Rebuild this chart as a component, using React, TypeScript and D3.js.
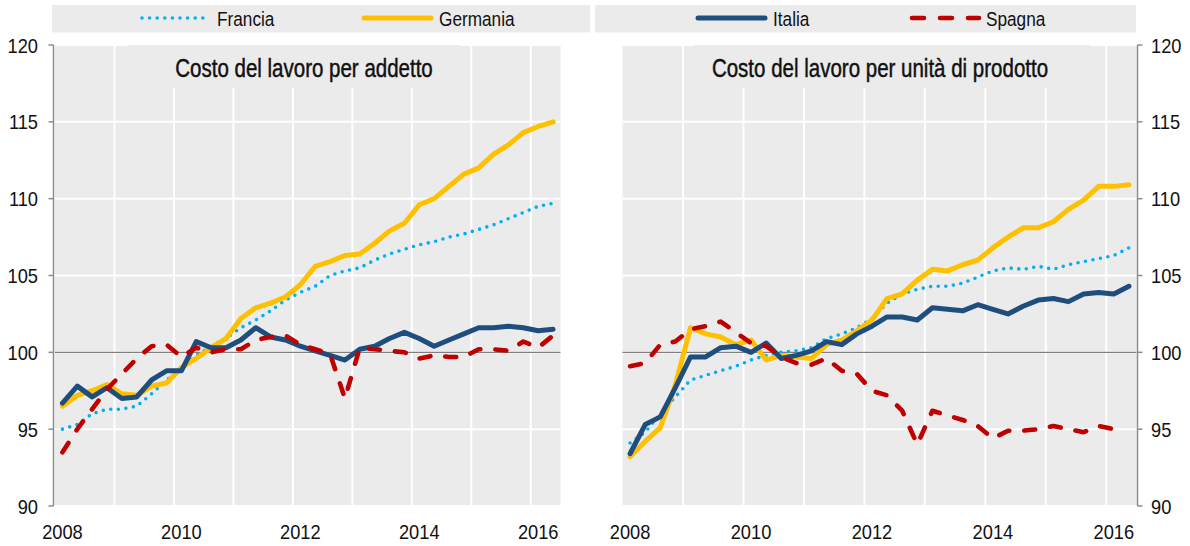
import React from 'react';
import * as d3 from 'd3';

// ---------- DATA ----------
const years = [2008, 2009, 2010, 2011, 2012, 2013, 2014, 2015, 2016];
const quarterLabels: string[] = [];
years.forEach((y) => [1, 2, 3, 4].forEach((q) => quarterLabels.push(`${y}Q${q}`)));
const categories = quarterLabels.slice(0, 34); // 2008Q1 .. 2016Q2

const xTickLabels = ['2008', '2010', '2012', '2014', '2016'];
const yTicks = [90, 95, 100, 105, 110, 115, 120];

const seriesNames = ['Francia', 'Germania', 'Italia', 'Spagna'];

// Costo del lavoro per addetto
const leftFrancia = [95.0, 95.3, 96.0, 96.3, 96.3, 96.5, 97.3, 98.2, 98.9, 99.8, 100.4, 100.9, 101.6, 102.1, 102.7, 103.4, 103.9, 104.3, 105.0, 105.3, 105.5, 106.0, 106.4, 106.7, 107.0, 107.2, 107.5, 107.7, 108.0, 108.3, 108.7, 109.1, 109.5, 109.7];
const leftGermania = [96.5, 97.2, 97.5, 97.9, 97.3, 97.2, 97.8, 98.0, 99.0, 99.6, 100.3, 100.9, 102.2, 102.9, 103.2, 103.6, 104.4, 105.6, 105.9, 106.3, 106.4, 107.1, 107.9, 108.4, 109.6, 110.0, 110.8, 111.6, 112.0, 112.9, 113.5, 114.3, 114.7, 115.0];
const leftItalia = [96.7, 97.8, 97.1, 97.7, 97.0, 97.1, 98.2, 98.8, 98.8, 100.7, 100.3, 100.3, 100.8, 101.6, 101.0, 100.8, 100.4, 100.1, 99.8, 99.5, 100.2, 100.4, 100.9, 101.3, 100.9, 100.4, 100.8, 101.2, 101.6, 101.6, 101.7, 101.6, 101.4, 101.5];
const leftSpagna = [93.5, 95.0, 96.3, 97.6, 98.6, 99.6, 100.4, 100.5, 99.7, 100.3, 100.0, 100.2, 100.2, 100.8, 101.0, 101.1, 100.5, 100.2, 99.9, 97.0, 100.3, 100.2, 100.1, 100.0, 99.6, 99.8, 99.7, 99.7, 100.2, 100.2, 100.1, 100.7, 100.3, 101.1];

// Costo del lavoro per unità di prodotto
const rightFrancia = [94.1, 94.8, 96.0, 97.1, 98.2, 98.5, 98.8, 99.1, 99.5, 99.8, 100.0, 100.1, 100.3, 100.9, 101.2, 101.6, 102.2, 103.2, 103.8, 104.1, 104.3, 104.3, 104.5, 104.9, 105.3, 105.5, 105.4, 105.6, 105.4, 105.7, 105.9, 106.1, 106.3, 106.8];
const rightGermania = [93.2, 94.2, 95.1, 97.9, 101.6, 101.2, 101.0, 100.5, 100.8, 99.5, 99.8, 99.7, 99.6, 100.5, 100.8, 101.4, 102.1, 103.5, 103.8, 104.7, 105.4, 105.3, 105.7, 106.0, 106.8, 107.5, 108.1, 108.1, 108.5, 109.3, 109.9, 110.8, 110.8, 110.9];
const rightItalia = [93.4, 95.3, 95.8, 97.7, 99.7, 99.7, 100.3, 100.4, 100.0, 100.6, 99.6, 99.8, 100.1, 100.7, 100.5, 101.2, 101.7, 102.3, 102.3, 102.1, 102.9, 102.8, 102.7, 103.1, 102.8, 102.5, 103.0, 103.4, 103.5, 103.3, 103.8, 103.9, 103.8, 104.3];
const rightSpagna = [99.1, 99.3, 100.5, 100.7, 101.5, 101.7, 102.0, 101.3, 100.6, 100.4, 99.7, 99.3, 99.2, 99.6, 98.8, 98.6, 97.5, 97.2, 96.2, 94.0, 96.2, 95.9, 95.6, 95.2, 94.4, 94.9, 94.9, 95.0, 95.2, 95.0, 94.8, 95.2, 95.0];

const panelTitles = ['Costo del lavoro per addetto', 'Costo del lavoro per unità di prodotto'];

// ---------- STYLE ----------
const FONT = "'Liberation Sans', Arial, sans-serif";
const BG = '#ebebeb';
const styles: Record<string, any> = {
  Francia: { stroke: '#00b0f0', width: 3.6, dash: '0,7.6', cap: 'round' },
  Germania: { stroke: '#ffc000', width: 5, dash: null, cap: 'round' },
  Italia: { stroke: '#1f4e7e', width: 5, dash: null, cap: 'round' },
  Spagna: { stroke: '#c00000', width: 4.6, dash: '11,15', cap: 'round' },
};

const qIndex = (label: string) => {
  const y = +label.slice(0, 4);
  const q = +label.slice(5);
  return y + (q - 0.5) / 4;
};

function NText({ x, y, size, anchor = 'start', dy, children, sx = 0.82, bold = 0 }: any) {
  return (
    <text transform={`translate(${x},${y}) scale(${sx},1)`} textAnchor={anchor} dy={dy}
      fontFamily={FONT} fontSize={size} fill="#111" stroke={bold ? '#111' : undefined} strokeWidth={bold || undefined}>{children}</text>
  );
}

type PanelProps = {
  x0: number; x1: number; side: 'left' | 'right'; title: string; titleBox: [number, number]; titleX: number;
  data: Record<string, number[]>;
};

const Y0 = 45, Y1 = 506;

function Panel({ x0, x1, side, title, titleBox, titleX, data }: PanelProps) {
  const x = d3.scaleLinear().domain([2008, 2016.5]).range([x0, x1]);
  const y = d3.scaleLinear().domain([90, 120]).range([Y1, Y0]);
  const line = d3.line<number>().x((_, i) => x(qIndex(categories[i]))).y((d) => y(d));
  const axisX = side === 'left' ? x0 - 1.5 : x1 + 1;
  const tickDir = side === 'left' ? -5 : 5;
  return (
    <g>
      <rect x={x0} y={Y0} width={x1 - x0} height={Y1 - Y0} fill={BG} />
      {yTicks.map((t) => (
        <line key={'h' + t} x1={x0} x2={x1} y1={y(t)} y2={y(t)} stroke="#fff" strokeWidth={2} />
      ))}
      {years.slice(1).map((yr) => (
        <line key={'v' + yr} x1={x(yr)} x2={x(yr)} y1={Y0} y2={Y1} stroke="#fff" strokeWidth={2} />
      ))}
      <rect x={titleBox[0]} y={Y0} width={titleBox[1] - titleBox[0]} height={43} fill={BG} />
      <NText x={titleX} y={77} size={25} anchor="middle" bold={0.45}>{title}</NText>
      <line x1={x0} x2={x1} y1={y(100)} y2={y(100)} stroke="#7f7f7f" strokeWidth={1.3} />
      {seriesNames.map((name) => {
        const s = styles[name];
        return (
          <path key={name} d={line(data[name]) || ''} fill="none" stroke={s.stroke} strokeWidth={s.width}
            strokeDasharray={s.dash || undefined} strokeLinecap={s.cap} strokeLinejoin="round" />
        );
      })}
      <line x1={axisX} x2={axisX} y1={Y0} y2={Y1} stroke="#8c8c8c" strokeWidth={1.5} />
      {yTicks.map((t) => (
        <g key={'t' + t}>
          <line x1={axisX} x2={axisX + tickDir} y1={y(t)} y2={y(t)} stroke="#8c8c8c" strokeWidth={1.5} />
          <NText x={side === 'left' ? 38 : 1151} y={y(t)} dy="0.36em" size={21} sx={0.87}
            anchor={side === 'left' ? 'end' : 'start'}>{t}</NText>
        </g>
      ))}
      {xTickLabels.map((lab) => (
        <NText key={'x' + lab} x={x(qIndex(lab + 'Q1'))} y={539} size={21} sx={0.87} anchor="middle">{lab}</NText>
      ))}
    </g>
  );
}

function LegendItem({ name, lx0, lx1, tx }: { name: string; lx0: number; lx1: number; tx: number }) {
  const s = styles[name];
  return (
    <g>
      <line x1={lx0} x2={lx1} y1={18} y2={18} stroke={s.stroke} strokeWidth={s.width}
        strokeDasharray={name === 'Spagna' ? '12,16' : s.dash || undefined} strokeLinecap="round" />
      <NText x={tx} y={26} size={20.5} sx={0.84}>{name}</NText>
    </g>
  );
}

export default function App() {
  const leftData = { Francia: leftFrancia, Germania: leftGermania, Italia: leftItalia, Spagna: leftSpagna };
  const rightData = { Francia: rightFrancia, Germania: rightGermania, Italia: rightItalia, Spagna: rightSpagna };
  return (
    <svg width={1190} height={546} style={{ position: 'absolute', left: 0, top: 0, background: '#fff' }}>
      <rect x={52} y={5} width={538} height={27.5} fill={BG} />
      <rect x={595} y={5} width={541} height={27.5} fill={BG} />
      <LegendItem name="Francia" lx0={142} lx1={207} tx={217} />
      <LegendItem name="Germania" lx0={364} lx1={431} tx={439} />
      <LegendItem name="Italia" lx0={698} lx1={765} tx={773} />
      <LegendItem name="Spagna" lx0={912} lx1={979} tx={986} />
      <Panel x0={55} x1={560.5} side="left" title={panelTitles[0]} titleBox={[128, 460]} titleX={304} data={leftData} />
      <Panel x0={622.5} x1={1136.5} side="right" title={panelTitles[1]} titleBox={[694, 1090]} titleX={880} data={rightData} />
    </svg>
  );
}
